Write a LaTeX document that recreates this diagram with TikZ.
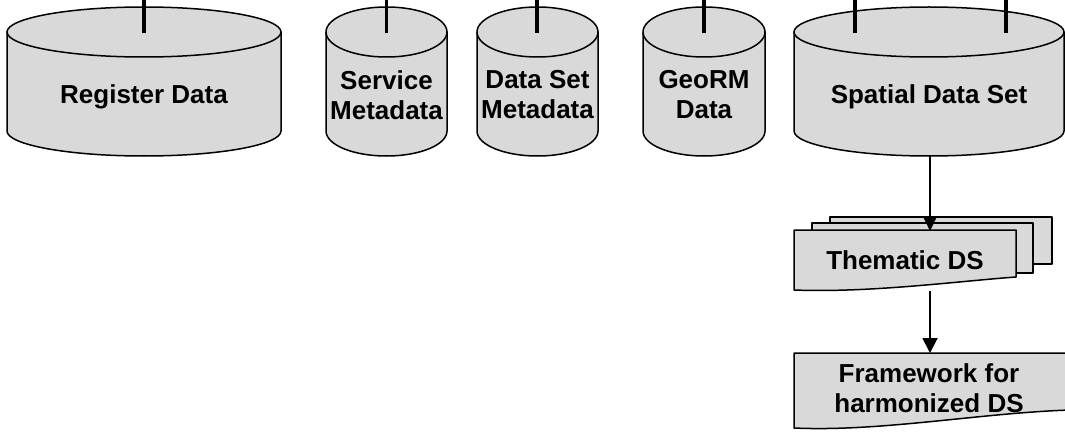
\documentclass[tikz,border=0pt]{standalone}
\usepackage{fontspec}
\setmainfont{Liberation Sans}
\usetikzlibrary{arrows.meta}
\definecolor{fillgray}{RGB}{217,217,217}
\tikzset{
  shapeline/.style={draw=black, line width=1.5pt, fill=fillgray, line join=round},
  lbl/.style={font=\fontsize{26}{30}\selectfont\bfseries, align=center, inner sep=0pt},
  topconn/.style={line width=3.3pt},
  arrowconn/.style={line width=2pt},
  headsmall/.style={-{Triangle[length=13pt,width=12pt]}},
  headbig/.style={-{Triangle[length=15pt,width=15pt]}},
}
\newcommand\dbcyl[5]{%
  \pgfmathsetmacro\cx{(#2+#3)/2}%
  \pgfmathsetmacro\rx{(#3-#2)/2}%
  \path[shapeline] (#2,32) -- (#2,131) arc[start angle=180,end angle=360,x radius=\rx pt,y radius=25pt] -- (#3,32) -- cycle;
  \path[shapeline] (\cx,32) ellipse[x radius=\rx pt, y radius=25pt];
  \node[lbl] (#1) at (\cx,#4) {#5};
}
\begin{document}
\begin{tikzpicture}[x=1pt,y=-1pt]
\useasboundingbox (0,0) rectangle (1065,433);

% cylinders
\dbcyl{reg}{7}{281}{97}{Register Data}
\dbcyl{svc}{326}{447}{95}{Service\\Metadata}
\dbcyl{dsm}{477}{598}{95}{Data Set\\Metadata}
\dbcyl{geo}{643}{765}{95}{GeoRM\\Data}
\dbcyl{sds}{794}{1064}{97}{Spatial Data Set}

% connector end points
\coordinate (regtop) at (144,33);
\coordinate (svctop) at (386.5,33);
\coordinate (dsmtop) at (537,33);
\coordinate (geotop) at (704,33);
\coordinate (sdstopA) at (855,33);
\coordinate (sdstopB) at (1006,33);
\coordinate (regout) at (144,-3);
\coordinate (svcout) at (386.5,-3);
\coordinate (dsmout) at (537,-3);
\coordinate (geoout) at (704,-3);
\coordinate (sdsoutA) at (855,-3);
\coordinate (sdsoutB) at (1006,-3);
\coordinate (sdsbot) at (930,156);

% thematic data sets (stacked documents)
\path[shapeline] (830,217) rectangle (1052,264);
\path[shapeline] (812,223) rectangle (1033,273);
\path[shapeline] (794,230) -- (1016,230) -- (1016,277)
  .. controls (960,281) and (870,293) .. (794,290) -- cycle;
\node[lbl] (them) at (905,260) {Thematic DS};
\coordinate (themtop) at (930,231);
\coordinate (thembot) at (930,291);

% framework document
\path[shapeline] (794,353) -- (1070,353) -- (1070,410)
  .. controls (980,413) and (880,432) .. (794,428) -- cycle;
\node[lbl] (fw) at (929,388) {Framework for\\harmonized DS};
\coordinate (fwtop) at (930,353);

% connectors
\draw[topconn] (regout) -- (regtop);
\draw[topconn] (svcout) -- (svctop);
\draw[topconn] (dsmout) -- (dsmtop);
\draw[topconn] (geoout) -- (geotop);
\draw[topconn] (sdsoutA) -- (sdstopA);
\draw[topconn] (sdsoutB) -- (sdstopB);
\draw[arrowconn, headsmall] (sdsbot) -- (themtop);
\draw[arrowconn, headbig] (thembot) -- (fwtop);
\end{tikzpicture}
\end{document}
